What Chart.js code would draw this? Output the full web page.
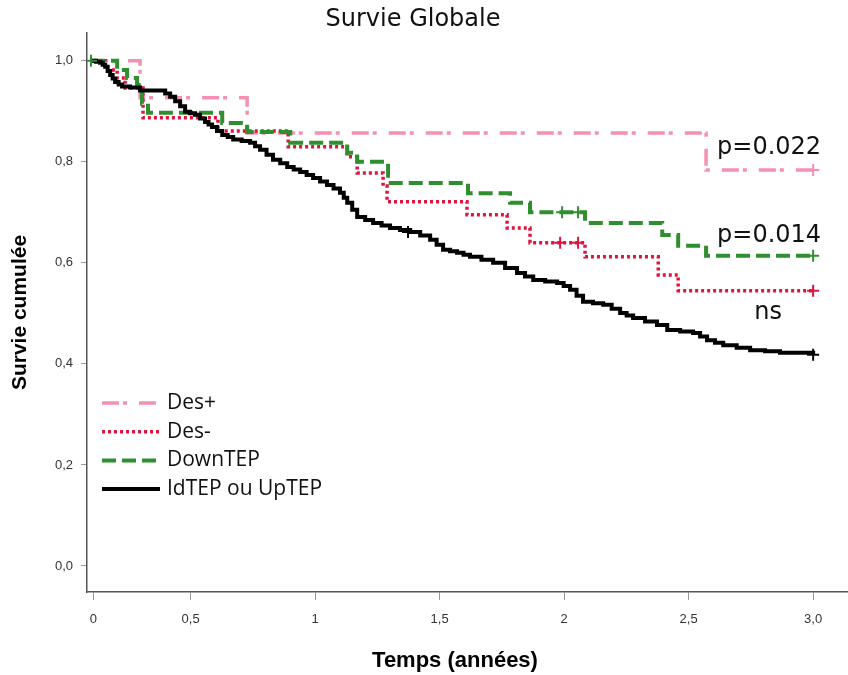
<!DOCTYPE html>
<html lang="fr">
<head>
<meta charset="utf-8">
<title>Survie Globale</title>
<script src="https://cdn.jsdelivr.net/npm/chart.js@4.4.1/dist/chart.umd.min.js"></script>
<style>
  html, body { margin: 0; padding: 0; background: #fff; }
  #wrap { width: 848px; height: 675px; position: relative; }
</style>
</head>
<body>
<div id="wrap"><canvas id="km"></canvas></div>
<script>
// Kaplan-Meier curves: step times (years) and survival after each step
const seriesNames = ['Des+', 'Des-', 'DownTEP', 'IdTEP ou UpTEP'];

const desPlusT = [0.100, 0.297, 0.727, 2.570, 3.000];
const desPlusS = [1.000, 0.927, 0.857, 0.784, 0.784];

const desMinusT = [0.100, 0.157, 0.205, 0.237, 0.309, 0.610, 0.892, 1.129, 1.169, 1.273,
                   1.289, 1.610, 1.771, 1.863, 2.084, 2.378, 2.458, 3.000];
const desMinusS = [1.000, 0.982, 0.966, 0.946, 0.887, 0.861, 0.830, 0.810, 0.778, 0.752,
                   0.721, 0.695, 0.669, 0.640, 0.612, 0.576, 0.545, 0.545];

const downT = [0.100, 0.205, 0.245, 0.285, 0.305, 0.329, 0.627, 0.727, 0.900, 1.129,
               1.169, 1.293, 1.614, 1.783, 1.863, 2.084, 2.394, 2.458, 2.570, 3.000];
const downS = [1.000, 0.982, 0.966, 0.952, 0.915, 0.897, 0.877, 0.859, 0.838, 0.818,
               0.800, 0.758, 0.738, 0.719, 0.700, 0.679, 0.655, 0.634, 0.614, 0.614];

const idUpT = [0.100, 0.120, 0.137, 0.147, 0.157, 0.167, 0.177, 0.187, 0.197, 0.211,
               0.225, 0.257, 0.297, 0.378, 0.398, 0.418, 0.438, 0.458, 0.478, 0.498,
               0.518, 0.538, 0.558, 0.572, 0.586, 0.606, 0.627, 0.649, 0.671, 0.705,
               0.739, 0.759, 0.779, 0.805, 0.831, 0.860, 0.888, 0.914, 0.940, 0.966,
               0.992, 1.020, 1.048, 1.074, 1.100, 1.115, 1.129, 1.149, 1.169, 1.201,
               1.233, 1.267, 1.301, 1.341, 1.382, 1.422, 1.462, 1.488, 1.514, 1.542,
               1.570, 1.596, 1.622, 1.668, 1.715, 1.763, 1.811, 1.843, 1.876, 1.924,
               1.972, 1.998, 2.024, 2.050, 2.076, 2.116, 2.157, 2.191, 2.225, 2.251,
               2.277, 2.325, 2.373, 2.414, 2.466, 2.518, 2.546, 2.574, 2.606, 2.639,
               2.693, 2.747, 2.807, 2.867, 3.000];
const idUpS = [1.000, 0.998, 0.996, 0.992, 0.988, 0.980, 0.972, 0.965, 0.958, 0.953,
               0.949, 0.947, 0.941, 0.941, 0.935, 0.929, 0.920, 0.910, 0.899, 0.896,
               0.893, 0.886, 0.879, 0.874, 0.869, 0.861, 0.853, 0.849, 0.844, 0.841,
               0.838, 0.831, 0.824, 0.814, 0.804, 0.797, 0.790, 0.785, 0.780, 0.774,
               0.768, 0.761, 0.754, 0.747, 0.739, 0.729, 0.719, 0.705, 0.691, 0.685,
               0.679, 0.674, 0.669, 0.665, 0.661, 0.654, 0.646, 0.636, 0.626, 0.623,
               0.620, 0.616, 0.612, 0.606, 0.600, 0.590, 0.580, 0.573, 0.566, 0.563,
               0.560, 0.554, 0.547, 0.535, 0.523, 0.520, 0.517, 0.509, 0.501, 0.496,
               0.491, 0.484, 0.477, 0.467, 0.464, 0.461, 0.454, 0.447, 0.442, 0.437,
               0.432, 0.427, 0.425, 0.422, 0.418];

// censored observations (+ marks)
const desPlusCensT = [3.000];
const desPlusCensS = [0.784];
const desMinusCensT = [1.984, 2.056, 3.000];
const desMinusCensS = [0.640, 0.640, 0.545];
const downCensT = [0.100, 1.992, 2.056, 3.000];
const downCensS = [1.000, 0.700, 0.700, 0.614];
const idUpCensT = [1.373, 3.000];
const idUpCensS = [0.661, 0.418];

// axis ticks
const xTickValues = [0.11, 0.5, 1, 1.5, 2, 2.5, 3];
const xTickLabels = ['0', '0,5', '1', '1,5', '2', '2,5', '3,0'];
const yTickValues = [0, 0.2, 0.4, 0.6, 0.8, 1.0];
const yTickLabels = ['0,0', '0,2', '0,4', '0,6', '0,8', '1,0'];

// log-rank annotations
const noteTexts = ['p=0.022', 'p=0.014', 'ns'];
const noteT = [2.823, 2.823, 2.819];
const noteS = [0.828, 0.653, 0.501];

const toPoints = (t, s) => t.map((v, i) => ({ x: v, y: s[i] }));

const colors = ['#f590b5', '#e0153f', '#2f8f2f', '#000000'];
const dashes = [[17, 4, 4, 12], [3, 3], [14, 6], []];
const widths = [3.5, 3.5, 4, 4];

const curves = [
  [desPlusT, desPlusS], [desMinusT, desMinusS], [downT, downS], [idUpT, idUpS]
];
const censors = [
  [desPlusCensT, desPlusCensS], [desMinusCensT, desMinusCensS],
  [downCensT, downCensS], [idUpCensT, idUpCensS]
];

const curveSets = curves.map(([t, s], i) => ({
  label: seriesNames[i],
  data: toPoints(t, s),
  borderColor: colors[i],
  borderDash: dashes[i],
  borderWidth: widths[i],
  stepped: 'before',
  pointRadius: 0,
  fill: false,
  order: 4 - i + 4
}));

const censorSets = censors.map(([t, s], i) => ({
  label: seriesNames[i] + ' censuré',
  data: toPoints(t, s),
  showLine: false,
  pointStyle: 'cross',
  pointRadius: 6,
  pointBorderWidth: 2,
  borderColor: colors[i],
  backgroundColor: colors[i],
  order: 4 - i
}));

const overlay = {
  id: 'overlay',
  afterDraw(chart) {
    const { ctx, scales: { x, y } } = chart;
    ctx.save();
    ctx.fillStyle = '#111';
    ctx.textAlign = 'center';
    ctx.textBaseline = 'middle';
    ctx.font = '24px "DejaVu Sans"';
    ctx.fillText('Survie Globale', 413, 20);

    noteTexts.forEach((txt, i) => {
      ctx.fillText(txt, x.getPixelForValue(noteT[i]), y.getPixelForValue(noteS[i]));
    });

    // x axis title sits a little left of the plot centre in the original
    ctx.fillStyle = '#000';
    ctx.font = 'bold 22px "Liberation Sans"';
    ctx.fillText('Temps (années)', 455, 661);

    // legend inside the plot, upper left
    ctx.textAlign = 'left';
    ctx.font = '21px "Open Sans"';
    curveSets.forEach((ds, i) => {
      const rowY = 403 + i * 28.7;
      ctx.beginPath();
      ctx.strokeStyle = ds.borderColor;
      ctx.lineWidth = ds.borderWidth;
      ctx.setLineDash(ds.borderDash);
      ctx.moveTo(102, rowY);
      ctx.lineTo(160, rowY);
      ctx.stroke();
      ctx.setLineDash([]);
      ctx.fillStyle = '#111';
      ctx.fillText(ds.label, 167, rowY);
    });
    ctx.restore();
  }
};

new Chart(document.getElementById('km'), {
  type: 'line',
  data: { datasets: [...curveSets, ...censorSets] },
  options: {
    responsive: true,
    maintainAspectRatio: false,
    animation: false,
    layout: { autoPadding: false, padding: { top: 33, right: 0, left: 0, bottom: 0 } },
    plugins: {
      legend: { display: false },
      tooltip: { enabled: false }
    },
    scales: {
      x: {
        type: 'linear',
        min: 0.084,
        max: 3.14,
        afterFit: s => { s.height = 83; s.paddingLeft = 0; s.paddingRight = 0; },
        afterBuildTicks: s => { s.ticks = xTickValues.map(v => ({ value: v })); },
        ticks: {
          callback: (v, i) => xTickLabels[i],
          color: '#333',
          font: { family: 'Liberation Sans', size: 13 },
          padding: 12,
          maxRotation: 0,
          autoSkip: false
        },
        grid: { drawOnChartArea: false, drawTicks: true, tickLength: 8, color: '#999' },
        border: { display: true, color: '#555', width: 1.5 }
      },
      y: {
        min: -0.0515,
        max: 1.055,
        afterFit: s => { s.width = 87; s.paddingTop = 0; s.paddingBottom = 0; },
        afterBuildTicks: s => { s.ticks = yTickValues.map(v => ({ value: v })); },
        ticks: {
          callback: (v, i) => yTickLabels[i],
          color: '#333',
          font: { family: 'Liberation Sans', size: 13 },
          padding: 8
        },
        grid: { drawOnChartArea: false, drawTicks: true, tickLength: 6, color: '#999' },
        border: { display: true, color: '#555', width: 1.5 },
        title: {
          display: true,
          text: 'Survie cumulée',
          color: '#000',
          font: { family: 'Liberation Sans', size: 21, weight: 'bold' },
          padding: { top: 8, bottom: 0 }
        }
      }
    }
  },
  plugins: [overlay]
});
</script>
</body>
</html>
